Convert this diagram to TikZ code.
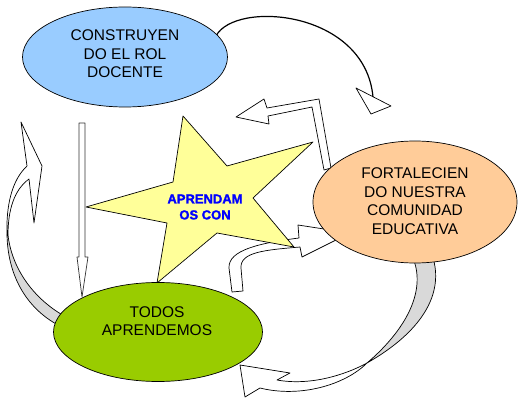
\documentclass[tikz,border=0pt]{standalone}
\usepackage{fontspec}
\setmainfont{Liberation Sans}
\newfontfamily\heavyfont[FakeBold=1.5]{Liberation Sans Bold}
\usetikzlibrary{shapes.geometric}
\definecolor{rolblue}{RGB}{153,204,255}
\definecolor{comorange}{RGB}{255,204,153}
\definecolor{todosgreen}{RGB}{153,204,0}
\definecolor{staryellow}{RGB}{255,255,153}

\begin{document}
\begin{tikzpicture}[x=1pt,y=-1pt,line cap=round,line join=round,
  bubble/.style={ellipse,draw=black,line width=0.7pt,inner sep=0pt},
  bubbletext/.style={align=center,inner sep=0pt,font=\fontsize{15.5}{18.5}\selectfont},
  blockarrow/.style={draw=black,fill=white,line width=0.7pt},
  bandback/.style={draw=black,fill=gray!30,line width=0.7pt}]
\path[use as bounding box] (0,0) rectangle (523,401);

% arc from the blue bubble
\draw[line width=1.2pt] (216,36) .. controls (235,0) and (365,10) .. (373,97);
\draw[blockarrow] (356,88) -- (391,106) -- (371,114) -- cycle;

% curved arrow on the left
\draw[bandback] (7,235) .. controls (8,280) and (30,310) .. (58,325)
  -- (66,317) .. controls (35,300) and (12,270) .. (8,235) -- cycle;
\draw[blockarrow] (7,235) .. controls (6,205) and (12,180) .. (27,166)
  -- (21,122) -- (42,166) -- (34,223) -- (29,179)
  .. controls (14,190) and (8,210) .. (8,235) -- cycle;

% curved arrow at the bottom right
\draw[bandback] (431,252) .. controls (446,290) and (425,330) .. (367,363)
  .. controls (400,335) and (428,295) .. (413,258) -- cycle;
\draw[blockarrow] (367,363) .. controls (345,385) and (300,398) .. (260,388)
  -- (245,397) -- (240,365) -- (290,373) -- (277,380)
  .. controls (310,386) and (345,375) .. (367,363) -- cycle;

% bent arrow from the orange bubble
\draw[blockarrow] (331,168) -- (319,99) -- (267,108) -- (264,99) -- (236,117)
  -- (269,124) -- (268,116) -- (312,107) -- (324,170) -- cycle;

% curved arrow towards the orange bubble
\draw[blockarrow] (232,292) -- (229,268) .. controls (228,250) and (260,243) .. (299,238)
  -- (298,225) -- (350,233) -- (302,257) -- (300,247)
  .. controls (265,250) and (240,252) .. (241,268) -- (243,291) -- cycle;

% star
\draw[fill=staryellow,line width=0.7pt] (183,116) -- (227,166) -- (313,142) -- (253,198)
  -- (294,247) -- (217,233) -- (157,283) -- (167,223) -- (86,207) -- (173,182) -- cycle;
\node[align=center,inner sep=0pt,text=blue,font=\heavyfont\fontsize{13}{16}\selectfont]
  (lema) at (205,207) {APRENDAM\\OS CON};

% straight arrow down
\draw[blockarrow,draw=gray!40!black] (79,123) -- (85,123) -- (85,257) -- (88,257)
  -- (82,297) -- (77,257) -- (79,257) -- cycle;

% bubbles
\node[bubble,fill=rolblue,minimum width=205,minimum height=100] (rol) at (125,57) {};
\node[bubble,fill=comorange,minimum width=204,minimum height=122] (comunidad) at (415,202) {};
\node[bubble,fill=todosgreen,minimum width=209,minimum height=99] (todos) at (158,332) {};

\node[bubbletext] (rol text) at (125,54) {CONSTRUYEN\\DO EL ROL\\DOCENTE};
\node[bubbletext] (comunidad text) at (415,201) {FORTALECIEN\\DO NUESTRA\\COMUNIDAD\\EDUCATIVA};
\node[bubbletext] (todos text) at (157,321) {TODOS\\APRENDEMOS};
\end{tikzpicture}
\end{document}
